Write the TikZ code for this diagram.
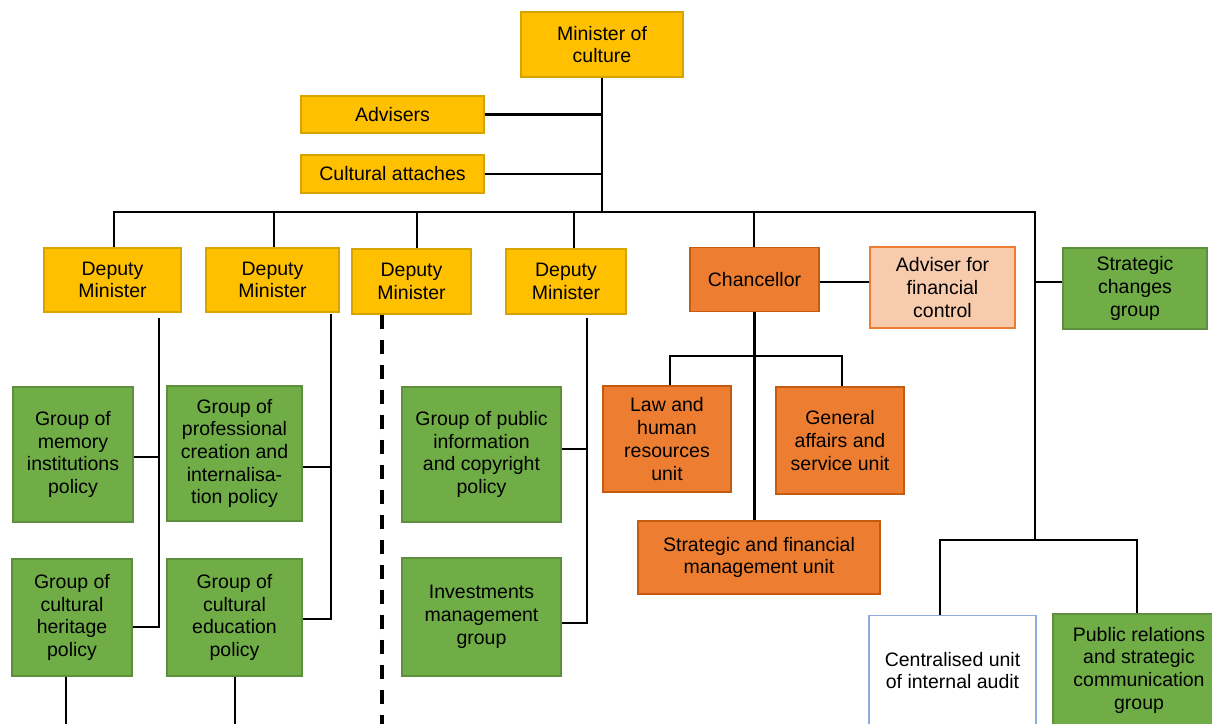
\documentclass[tikz,border=0pt]{standalone}
\usepackage{fontspec}
\setmainfont{Liberation Sans}
\definecolor{cgold}{HTML}{FFC000}
\definecolor{cgoldd}{HTML}{D6A300}
\definecolor{corange}{HTML}{ED7D31}
\definecolor{corangeD}{HTML}{C55A11}
\definecolor{cgreen}{HTML}{70AD47}
\definecolor{cgreenD}{HTML}{5E8F3C}
\definecolor{clight}{HTML}{F8CBAD}
\definecolor{cblue}{HTML}{8FAADC}
\begin{document}
\begin{tikzpicture}[x=1pt,y=-1pt,
  box/.style={draw, line width=1.3pt, align=center, inner sep=0pt,
    font=\fontsize{19.5}{22.7}\selectfont},
  goldbox/.style={box, fill=cgold, draw=cgoldd},
  orbox/.style={box, fill=corange, draw=corangeD},
  grbox/.style={box, fill=cgreen, draw=cgreenD},
  ltbox/.style={box, fill=clight, draw=corange},
  whbox/.style={box, fill=white, draw=cblue},
  conn/.style={line width=2.4pt, black},
  dashline/.style={line width=3.6pt, black, dash pattern=on 14pt off 11pt}]
\clip (0,0) rectangle (1212,723);
\fill[white] (0,0) rectangle (1212,723);
% top level
\node[goldbox, minimum width=162pt, minimum height=65pt] (min) at (602,44.5) {Minister of\\culture};
\node[goldbox, minimum width=183pt, minimum height=37pt] (adv) at (392.5,114.5) {Advisers};
\node[goldbox, minimum width=183pt, minimum height=38pt] (att) at (392.5,174) {Cultural attaches};
% deputies
\node[goldbox, minimum width=137pt, minimum height=64pt] (d1) at (112.5,280) {Deputy\\Minister};
\node[goldbox, minimum width=133pt, minimum height=64pt] (d2) at (272.5,280) {Deputy\\Minister};
\node[goldbox, minimum width=119pt, minimum height=65pt] (d3) at (411.5,281.5) {Deputy\\Minister};
\node[goldbox, minimum width=120pt, minimum height=65pt] (d4) at (566,281.5) {Deputy\\Minister};
\node[orbox, minimum width=129pt, minimum height=64pt] (chan) at (754.5,279.5) {Chancellor};
\node[ltbox, minimum width=145pt, minimum height=81pt] (afc) at (942.5,287.5) {Adviser for\\financial\\control};
\node[grbox, minimum width=144pt, minimum height=81pt] (scg) at (1135,288.5) {Strategic\\changes\\group};
% groups
\node[grbox, minimum width=120pt, minimum height=135pt] (mem) at (73,454.5) {Group of\\memory\\institutions\\policy};
\node[grbox, minimum width=135pt, minimum height=135pt] (prof) at (234.5,453.5) {Group of\\professional\\creation and\\internalisa-\\tion policy};
\node[grbox, minimum width=120pt, minimum height=117pt] (her) at (72,617.5) {Group of\\cultural\\heritage\\policy};
\node[grbox, minimum width=135pt, minimum height=117pt] (edu) at (234.5,617.5) {Group of\\cultural\\education\\policy};
\node[grbox, minimum width=159pt, minimum height=135pt] (pub) at (481.5,454.5) {Group of public\\information\\and copyright\\policy};
\node[grbox, minimum width=159pt, minimum height=118pt] (inv) at (481.5,617) {Investments\\management\\group};
% chancellor units
\node[orbox, minimum width=128pt, minimum height=106pt] (law) at (667,439) {Law and\\human\\resources\\unit};
\node[orbox, minimum width=128pt, minimum height=107pt] (gen) at (840,440.5) {General\\affairs and\\service unit};
\node[orbox, minimum width=242pt, minimum height=73pt] (sfm) at (759,557.5) {Strategic and financial\\management unit};
% bottom right
\node[whbox, minimum width=167pt, minimum height=110pt] (cen) at (952.5,670.5) {Centralised unit\\of internal audit};
\node[grbox, minimum width=172pt, minimum height=112pt] (prg) at (1139,670) {Public relations\\and strategic\\communication\\group};
% coordinates
\coordinate (bL) at (114,212);
\coordinate (bR) at (1035,212);
\coordinate (rb) at (1035,540);
\coordinate (b2) at (274,212);
\coordinate (b3) at (417,212);
\coordinate (b4) at (574,212);
\coordinate (b5) at (754,212);
\coordinate (sj) at (1035,282);
\coordinate (cj) at (0,282);
\coordinate (cl) at (670,356);
\coordinate (cr) at (842,356);
\coordinate (rbl) at (940,540);
\coordinate (rbr) at (1137,540);
\coordinate (v1t) at (159,318);
\coordinate (v1m) at (159,457);
\coordinate (v1b) at (159,627);
\coordinate (v2t) at (331,314);
\coordinate (v2m) at (331,467);
\coordinate (v2b) at (331,619);
\coordinate (v4t) at (587,318);
\coordinate (v4m) at (587,449);
\coordinate (v4b) at (587,623);
\coordinate (v3b) at (382,735);
\coordinate (h1) at (66,735);
\coordinate (h2) at (235,735);
% connectors
\draw[conn] (min.south) -- (min.south |- bL);
\draw[conn] (adv.east) -- (adv.east -| min.south);
\draw[conn] (att.east) -- (att.east -| min.south);
\draw[conn] (d1.north -| bL) -- (bL) -- (bR) -- (rb);
\draw[conn] (b2) -- (b2 |- d2.north);
\draw[conn] (b3) -- (b3 |- d3.north);
\draw[conn] (b4) -- (b4 |- d4.north);
\draw[conn] (b5) -- (b5 |- chan.north);
\draw[conn] (chan.east |- cj) -- (afc.west |- cj);
\draw[conn] (sj) -- (sj -| scg.west);
\draw[conn] (chan.south) -- (chan.south |- sfm.north);
\draw[conn] (law.north -| cl) -- (cl) -- (cr) -- (gen.north -| cr);
\draw[conn] (cen.north -| rbl) -- (rbl) -- (rbr) -- (prg.north -| rbr);
\draw[conn] (v1t) -- (v1b) -- (v1b -| her.east);
\draw[conn] (v1m) -- (v1m -| mem.east);
\draw[conn] (v2t) -- (v2b) -- (v2b -| edu.east);
\draw[conn] (v2m) -- (v2m -| prof.east);
\draw[conn] (v4t) -- (v4b) -- (v4b -| inv.east);
\draw[conn] (v4m) -- (v4m -| pub.east);
\draw[dashline] (d3.south -| v3b) -- (v3b);
\draw[conn] (her.south -| h1) -- (h1);
\draw[conn] (edu.south -| h2) -- (h2);
\end{tikzpicture}
\end{document}
